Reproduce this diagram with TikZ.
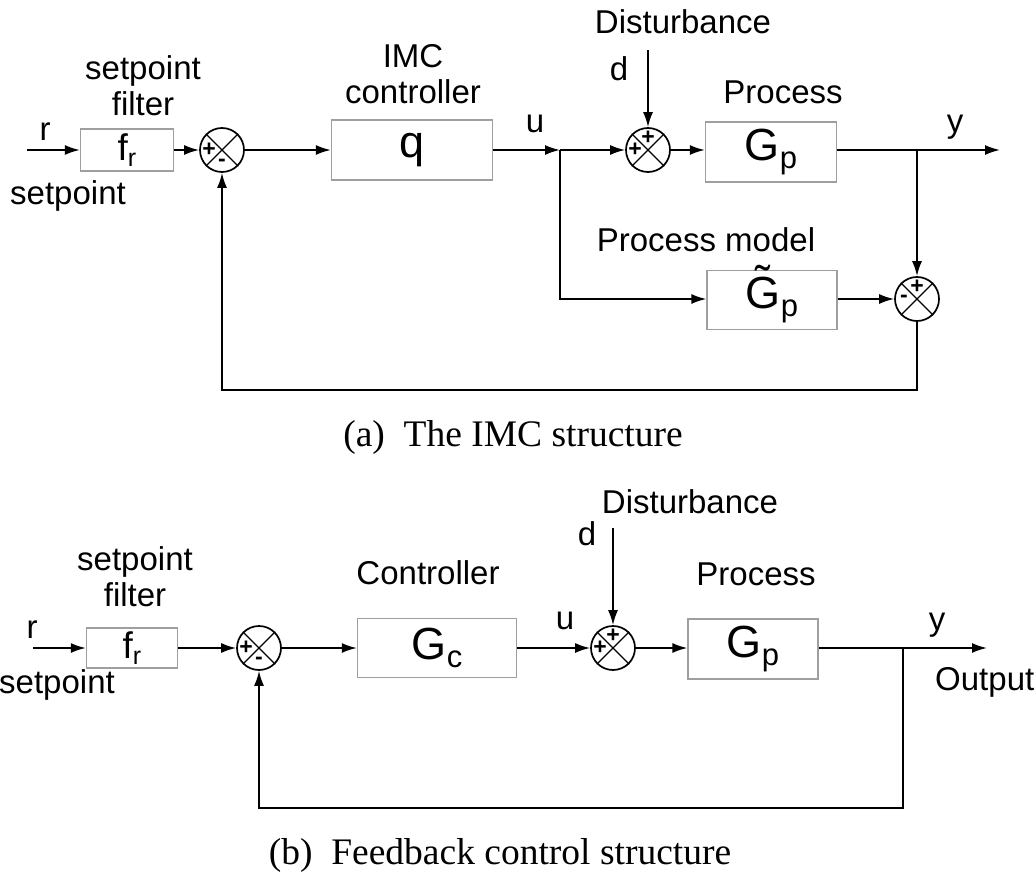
\documentclass[tikz,border=0pt]{standalone}
\usepackage{fontspec}
\setmainfont{Liberation Sans}
\newfontfamily\serifcap{Liberation Serif}
\usetikzlibrary{arrows.meta}
\newcommand\labfont{\fontsize{33}{36}\selectfont}
\newcommand\blkfont{\fontsize{45}{48}\selectfont}
\newcommand\filtfont{\fontsize{37}{39}\selectfont}
\newcommand\sgnfont{\fontsize{23}{23}\selectfont\bfseries}
\newcommand\capfont{\serifcap\fontsize{37.5}{40}\selectfont}
\newcommand\lowsub[2][31]{\raisebox{-0.3ex}{\fontsize{#1}{#1}\selectfont #2}}
\newcommand\tildeG{\ooalign{G\cr\hidewidth\raisebox{0.25em}{\char"02DC}\hidewidth\cr}}
\tikzset{
  blk/.style={draw=gray!75, line width=1.3pt, inner sep=0pt, font=\blkfont},
  sumj/.style={draw, circle, line width=1.7pt, minimum size=44pt, inner sep=0pt},
  sig/.style={line width=1.8pt, -{Latex[length=15pt,width=10pt]}},
  lab/.style={font=\labfont, inner sep=0pt},
  sgn/.style={font=\sgnfont, inner sep=0pt},
}
\begin{document}
\begin{tikzpicture}[x=1pt,y=-1pt]
  \useasboundingbox (0,0) rectangle (1035,874);
  \clip (0,0) rectangle (1035,874);
  % (a) IMC structure
  \node[blk, font=\filtfont, minimum width=93pt, minimum height=42pt] (fra) at (127,150) {f\lowsub[25]{r}};
  \node[sumj] (sa1) at (222,150) {};
  \node[blk, minimum width=161pt, minimum height=60pt] (qa) at (412,150) {q};
  \node[sumj] (sa2) at (648,150) {};
  \node[blk, minimum width=131pt, minimum height=60pt] (gpa) at (771,152) {G\lowsub{p}};
  \node[blk, minimum width=130pt, minimum height=59pt] (gma) at (772,300) {\tildeG\lowsub{p}};
  \node[sumj] (sa3) at (917,299) {};
  \coordinate (ra) at (27,150);
  \coordinate (ua) at (560,150);
  \coordinate (ub) at (560,299);
  \coordinate (da) at (648,50);
  \coordinate (ya) at (917,150);
  \coordinate (yenda) at (1000,150);
  \coordinate (fba) at (917,390);
  \coordinate (fbb) at (222,390);

  \draw[sig] (ra) -- (fra);
  \draw[sig] (fra) -- (sa1);
  \draw[sig] (sa1) -- (qa);
  \draw[sig] (qa) -- (ua);
  \draw[sig] (ua) -- (sa2);
  \draw[sig] (da) -- (sa2);
  \draw[sig] (sa2) -- (gpa.west |- sa2);
  \draw[sig] (gpa.east |- ya) -- (yenda);
  \draw[sig] (ya) -- (sa3);
  \draw[sig] (ua) -- (ub) -- (gma.west |- ub);
  \draw[sig] (gma.east |- sa3) -- (sa3);
  \draw[sig] (sa3) -- (fba) -- (fbb) -- (sa1);

  \node[lab] (rlaba) at (45,132) {r};
  \node[lab] (spta) at (68,196) {setpoint};
  \node[lab, align=center] (filta) at (143,86) {setpoint\\filter};
  \node[lab, align=center] (imca) at (413,74) {IMC\\controller};
  \node[lab] (ulaba) at (535,124) {u};
  \node[lab] (dista) at (683,22) {Disturbance};
  \node[lab] (dlaba) at (619,69) {d};
  \node[lab] (proca) at (783,92) {Process};
  \node[lab] (pmoda) at (706,240) {Process model};
  \node[lab] (ylaba) at (955,127) {y};
  \node[font=\capfont] (capa) at (513,437) {(a)\enspace The IMC structure};

  % (b) feedback structure
  \node[blk, font=\filtfont, minimum width=91pt, minimum height=40pt] (frb) at (132,648) {f\lowsub[25]{r}};
  \node[sumj] (sb1) at (259,648) {};
  \node[blk, minimum width=159pt, minimum height=59pt] (gcb) at (437,648) {G\lowsub{c}};
  \node[sumj] (sb2) at (613,648) {};
  \node[blk, minimum width=130pt, minimum height=60pt] (gpb) at (753,649) {G\lowsub{p}};
  \coordinate (rb) at (33,648);
  \coordinate (db) at (613,528);
  \coordinate (yb) at (903,648);
  \coordinate (yendb) at (987,648);
  \coordinate (fbc) at (903,808);
  \coordinate (fbd) at (259,808);

  \draw[sig] (rb) -- (frb);
  \draw[sig] (frb) -- (sb1);
  \draw[sig] (sb1) -- (gcb);
  \draw[sig] (gcb) -- (sb2);
  \draw[sig] (db) -- (sb2);
  \draw[sig] (sb2) -- (gpb.west |- sb2);
  \draw[sig] (gpb.east |- yb) -- (yendb);
  \draw[sig] (yb) -- (fbc) -- (fbd) -- (sb1);

  \node[lab] (rlabb) at (32,630) {r};
  \node[lab] (sptb) at (57,685) {setpoint};
  \node[lab, align=center] (filtb) at (135,577) {setpoint\\filter};
  \node[lab] (ctrlb) at (428,573) {Controller};
  \node[lab] (ulabb) at (565,621) {u};
  \node[lab] (distb) at (690,502) {Disturbance};
  \node[lab] (dlabb) at (587,534) {d};
  \node[lab] (procb) at (756,574) {Process};
  \node[lab] (ylabb) at (937,625) {y};
  \node[lab, anchor=west] (outb) at (935,682) {Output};
  \node[font=\capfont] (capb) at (500,855) {(b)\enspace Feedback control structure};

  % summing junctions
  \foreach \s in {sa1,sa2,sa3,sb1,sb2}
    \draw[line width=1.3pt] (\s.north west) -- (\s.south east) (\s.north east) -- (\s.south west);
  \node[sgn] at ([shift={(-13,0)}]sa1.center) {+};
  \node[sgn] at ([shift={(0,13)}]sa1.center) {-};
  \node[sgn] at ([shift={(-13,0)}]sa2.center) {+};
  \node[sgn] at ([shift={(0,-12)}]sa2.center) {+};
  \node[sgn] at ([shift={(0,-12)}]sa3.center) {+};
  \node[sgn] at ([shift={(-13,0)}]sa3.center) {-};
  \node[sgn] at ([shift={(-13,0)}]sb1.center) {+};
  \node[sgn] at ([shift={(0,13)}]sb1.center) {-};
  \node[sgn] at ([shift={(-13,0)}]sb2.center) {+};
  \node[sgn] at ([shift={(0,-12)}]sb2.center) {+};
\end{tikzpicture}
\end{document}
